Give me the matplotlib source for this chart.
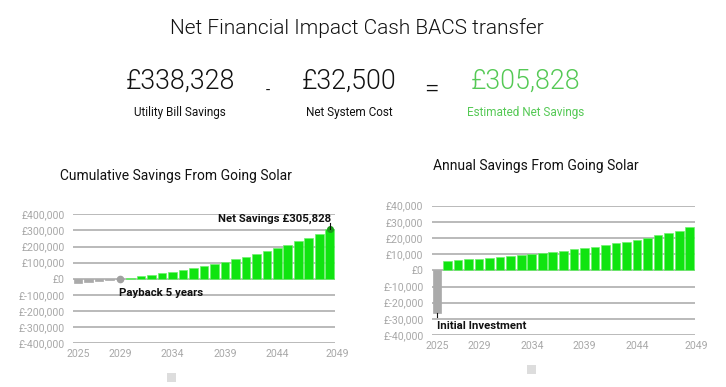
import numpy as np
import matplotlib
matplotlib.use("Agg")
import matplotlib.pyplot as plt
from matplotlib.patches import Rectangle
import matplotlib.transforms as mtransforms

plt.rcParams['font.family'] = ['Roboto', 'DejaVu Sans']

# ---- data ----
years = [str(y) for y in range(2025, 2050)]
annual_savings = [-26500, 6000, 6400, 6800, 7200, 7900, 8300, 8700, 9300, 10100,
                  10800, 11400, 12200, 13000, 13900, 14700, 15700, 16800, 17800,
                  19000, 20300, 21700, 23200, 24600, 26528]
cumulative_savings = list(np.cumsum(annual_savings))
xtick_years = ['2025', '2029', '2034', '2039', '2044', '2049']
cum_yticks = [-400000, -300000, -200000, -100000, 0, 100000, 200000, 300000, 400000]
ann_yticks = [-40000, -30000, -20000, -10000, 0, 10000, 20000, 30000, 40000]
title = "Net Financial Impact Cash BACS transfer"
summary_values = ["£338,328", "£32,500", "£305,828"]
summary_labels = ["Utility Bill Savings", "Net System Cost", "Estimated Net Savings"]
payback_year = '2029'
payback_label = "Payback 5 years"
net_label = "Net Savings £305,828"
initial_label = "Initial Investment"

GREEN = '#10e410'
GREEN_EDGE = '#6ff06f'
GREY = '#aaaaaa'
GRID = '#b4b4b4'
TICK = '#a8a8a8'
TXT_GREEN = '#55c955'

W, H = 726, 387
fig = plt.figure(figsize=(W / 100, H / 100), dpi=100)

def fx(px):
    return px / W

def fy(py):
    return 1 - py / H

# ---- header ----
fig.text(fx(357), fy(28), title, ha='center', va='center', fontsize=15,
         fontweight=300, color='#111111')
centers = [180, 349.5, 526]
colors = ['#111111', '#111111', TXT_GREEN]
for cx, v, lab, c in zip(centers, summary_values, summary_labels, colors):
    fig.text(fx(cx), fy(81), v, ha='center', va='center', fontsize=19.3,
             fontweight=300, color=c)
    fig.text(fx(cx), fy(112.5), lab, ha='center', va='center', fontsize=8.5,
             color=c)
fig.text(fx(268), fy(91), "-", ha='center', va='center', fontsize=11, color='#111111')
fig.text(fx(431), fy(90), "=", ha='center', va='center', fontsize=19, fontweight=300, color='#111111')

fig.text(fx(176), fy(176), "Cumulative Savings From Going Solar", ha='center', va='center',
         fontsize=10, color='#111111')
fig.text(fx(536), fy(166), "Annual Savings From Going Solar", ha='center', va='center',
         fontsize=10, color='#111111')


def money(v):
    if v < 0:
        return "£-{:,}".format(abs(int(v)))
    return "£{:,}".format(int(v))


def style_axes(ax, yticks):
    ax.set_xlim(-0.5, len(years) - 0.5)
    ax.set_ylim(yticks[0], yticks[-1])
    ax.set_yticks(yticks)
    ax.set_yticklabels([money(t) for t in yticks])
    idx = [years.index(y) for y in xtick_years]
    ax.set_xticks(idx)
    ax.set_xticklabels(xtick_years)
    for s in ax.spines.values():
        s.set_visible(False)
    ax.tick_params(length=0, labelsize=7.6, labelcolor=TICK, pad=6)
    ax.tick_params(axis='x', pad=4)
    ax.grid(axis='y', color=GRID, linewidth=1.3)
    ax.set_axisbelow(True)
    last = ax.get_xticklabels()[-1]
    last.set_transform(last.get_transform() +
                       mtransforms.ScaledTranslation(7 / 100, 0, fig.dpi_scale_trans))

# ---- cumulative chart ----
ax1 = fig.add_axes([fx(72.7), fy(343.3), fx(335 - 72.7), (343.3 - 214.3) / H])
x = np.arange(len(years))
c1 = [GREY if v < 0 else GREEN for v in cumulative_savings]
e1 = [GREY if v < 0 else GREEN_EDGE for v in cumulative_savings]
ax1.bar(x, cumulative_savings, width=0.82, color=c1, edgecolor=e1, linewidth=0.5, zorder=2)
style_axes(ax1, cum_yticks)
pi = years.index(payback_year)
ax1.plot([pi], [0], 'o', color='#a0a0a0', markersize=4.5, zorder=3)
ax1.annotate(payback_label, xy=(pi, 0), xytext=(-1, -10), textcoords='offset points',
             ha='left', va='center', fontsize=8.2, fontweight='bold', color='#111111')
li = len(years) - 1
ax1.plot([li], [cumulative_savings[-1]], 'o', color='#1a9a1a', markersize=4, zorder=3)
ax1.annotate(net_label, xy=(li, cumulative_savings[-1]), xytext=(1, 8),
             textcoords='offset points', ha='right', va='center', fontsize=8.2,
             fontweight='bold', color='#111111')
ax1.plot([li, li], [cumulative_savings[-1], cumulative_savings[-1] + 40000],
         color='#111111', linewidth=0.8, zorder=4)

# ---- annual chart ----
ax2 = fig.add_axes([fx(431.7), fy(335), fx(695 - 431.7), (335 - 205.7) / H])
c2 = [GREY if v < 0 else GREEN for v in annual_savings]
e2 = [GREY if v < 0 else GREEN_EDGE for v in annual_savings]
ax2.bar(x, annual_savings, width=0.82, color=c2, edgecolor=e2, linewidth=0.5, zorder=2)
style_axes(ax2, ann_yticks)
ax2.plot([0, 0], [annual_savings[0], annual_savings[0] - 2500], color='#111111',
         linewidth=0.8, zorder=4)
ax2.annotate(initial_label, xy=(0, annual_savings[0]), xytext=(0, -9),
             textcoords='offset points', ha='left', va='center', fontsize=8.2,
             fontweight='bold', color='#111111')

# legend placeholder squares
fig.patches.append(Rectangle((fx(167), fy(382)), 9 / W, 9 / H, transform=fig.transFigure,
                             facecolor='#dddddd', edgecolor='none'))
fig.patches.append(Rectangle((fx(527), fy(374)), 9 / W, 9 / H, transform=fig.transFigure,
                             facecolor='#dddddd', edgecolor='none'))

fig.savefig('out.png', dpi=100)
